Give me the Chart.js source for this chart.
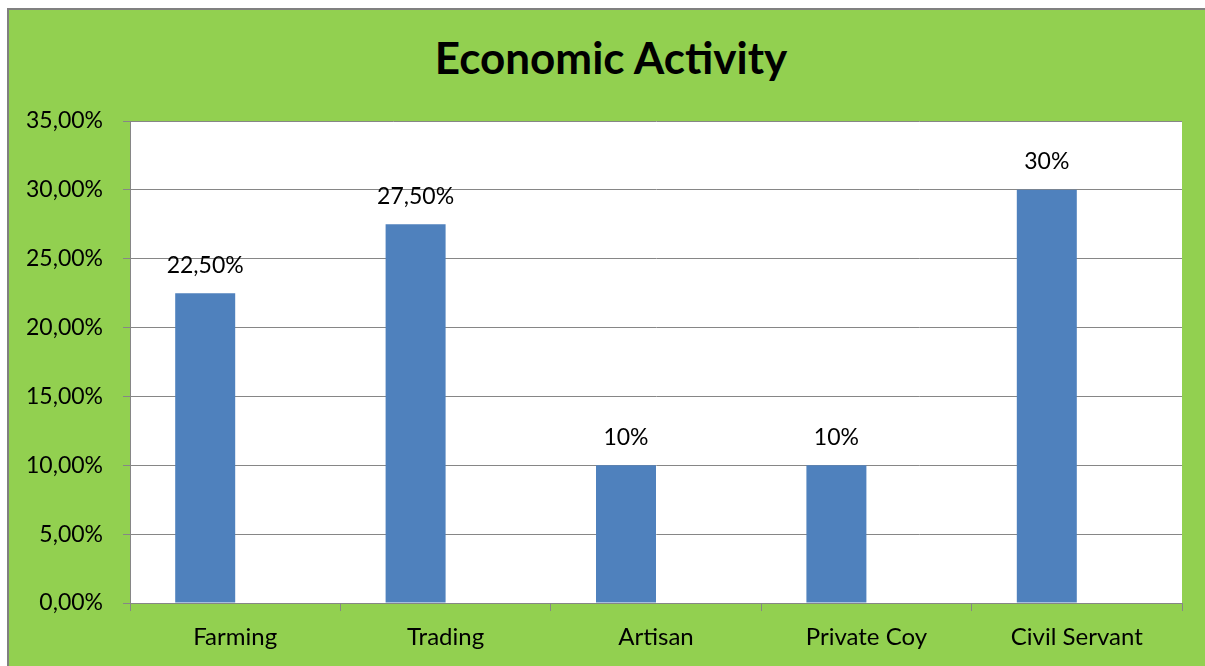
<!DOCTYPE html>
<html>
<head>
<meta charset="utf-8">
<script src="https://cdn.jsdelivr.net/npm/chart.js@4.4.1/dist/chart.umd.min.js"></script>
<style>
  html, body { margin: 0; padding: 0; background: #fff; overflow: hidden; }
  #frame {
    position: absolute; left: 7px; top: 8px; width: 1300px; height: 760px;
    background: #92D050; border-top: 2px solid #808080; border-left: 2px solid #808080;
  }
  #title {
    position: absolute; left: 11px; top: 31px; width: 1200px; text-align: center;
    font: bold 44px/52.8px Lato; color: #000;
  }
  #chart { position: absolute; left: 0; top: 0; }
</style>
</head>
<body>
<div id="frame"></div>
<div id="title">Economic Activity</div>
<canvas id="chart" width="1205" height="666"></canvas>
<script>
// chart data
var activities = ['Farming', 'Trading', 'Artisan', 'Private Coy', 'Civil Servant'];
var shares = [22.5, 27.5, 10, 10, 30];
var shareLabels = ['22,50%', '27,50%', '10%', '10%', '30%'];
var emptySeries = [null, null, null, null, null];

var gridGrey = '#868686';

// white plot area
var plotBackground = {
    id: 'plotBackground',
    beforeDraw: function (chart) {
        var a = chart.chartArea;
        chart.ctx.save();
        chart.ctx.fillStyle = '#fff';
        chart.ctx.fillRect(a.left, a.top, a.right - a.left, a.bottom - a.top);
        chart.ctx.restore();
    }
};

// writes the value over each bar
var valueLabels = {
    id: 'valueLabels',
    afterDatasetsDraw: function (chart) {
        var ctx = chart.ctx;
        var meta = chart.getDatasetMeta(0);
        ctx.save();
        ctx.font = '23px Lato';
        ctx.fillStyle = '#000';
        ctx.textAlign = 'center';
        ctx.textBaseline = 'middle';
        meta.data.forEach(function (bar, i) {
            ctx.fillText(shareLabels[i], bar.x, bar.y - 28);
        });
        ctx.restore();
    }
};

var config = {
    type: 'bar',
    data: {
        labels: activities,
        datasets: [{
            data: shares,
            backgroundColor: '#4F81BD',
            categoryPercentage: 0.5703,
            barPercentage: 1.0
        }, {
            data: emptySeries,
            backgroundColor: '#C0504D',
            categoryPercentage: 0.5703,
            barPercentage: 1.0
        }]
    },
    options: {
        responsive: false,
        animation: false,
        layout: { padding: { top: 121, right: 23, bottom: 0, left: 0 } },
        plugins: {
            legend: { display: false },
            tooltip: { enabled: false }
        },
        scales: {
            x: {
                grid: { drawOnChartArea: false, color: gridGrey, tickLength: 8, offset: true },
                border: { color: gridGrey },
                ticks: { color: '#000', font: { family: 'Lato', size: 24 }, padding: 12 },
                afterFit: function (scale) { scale.height = 63; }
            },
            y: {
                min: 0,
                max: 35,
                ticks: {
                    stepSize: 5,
                    color: '#000',
                    font: { family: 'Lato', size: 23 },
                    padding: 20,
                    callback: function (v) { return v.toFixed(2).replace('.', ',') + '%'; }
                },
                grid: { color: gridGrey, tickLength: 7 },
                border: { color: gridGrey },
                afterFit: function (scale) { scale.width = 130; }
            }
        }
    },
    plugins: [plotBackground, valueLabels]
};

var ctx = document.getElementById('chart').getContext('2d');
window.myBar = new Chart(ctx, config);
</script>
</body>
</html>
